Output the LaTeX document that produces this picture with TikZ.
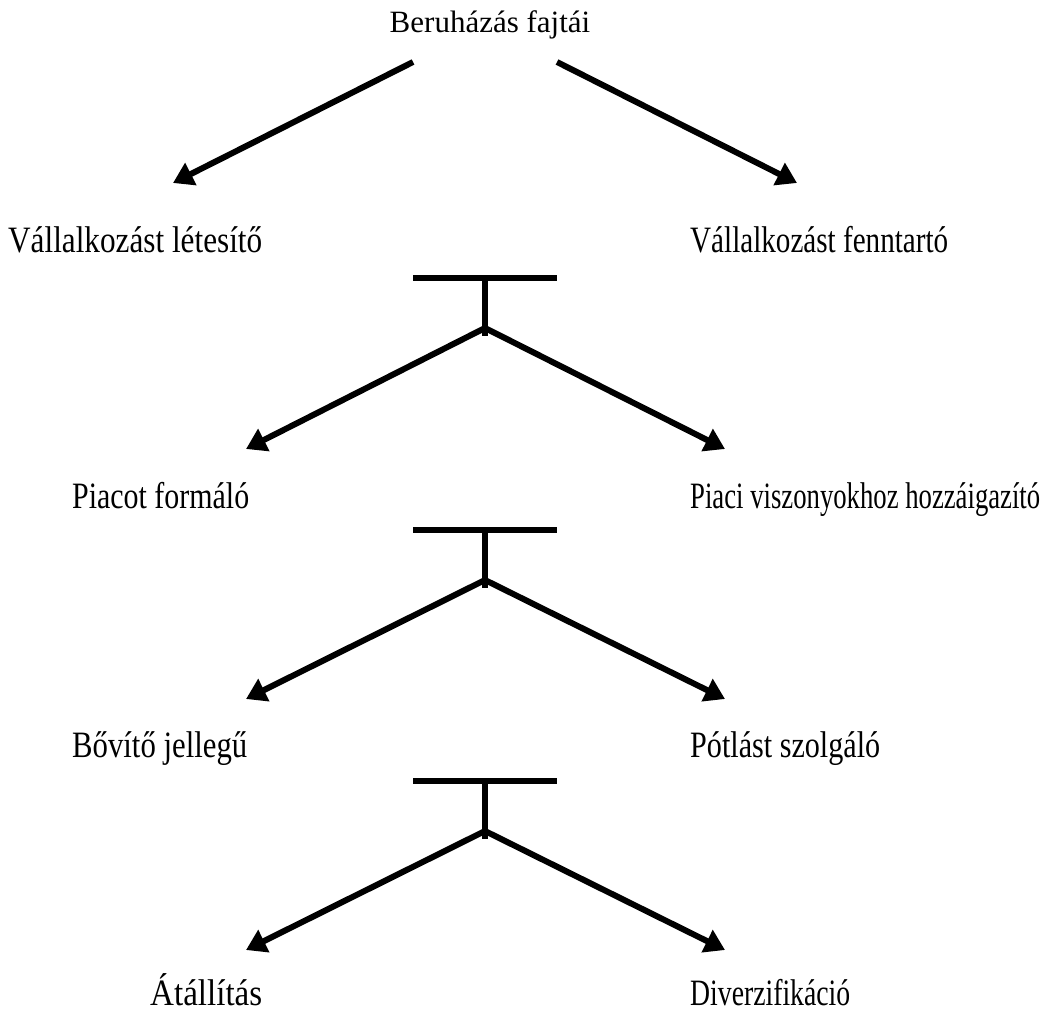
\documentclass[tikz,border=0pt]{standalone}
\usepackage{fontspec}
\usepackage{graphicx}
\setmainfont{Liberation Serif}
\usetikzlibrary{arrows.meta}
\newcommand{\lab}[2]{\resizebox{#1}{1.2\height}{#2}}
\begin{document}
\begin{tikzpicture}[x=1pt,y=-1pt,
  lbl/.style={inner sep=0pt,anchor=base west,font=\fontsize{31}{36}\selectfont},
  conn/.style={line width=6pt,-{Triangle[length=20pt,width=24pt]}},
  bar/.style={line width=6pt}]
\useasboundingbox (0,0) rectangle (1051,1011);
\node[inner sep=0pt,anchor=base,font=\fontsize{31}{36}\selectfont] (root) at (490,33) {Beruházás fajtái};
\coordinate (r1) at (413,62);
\coordinate (r2) at (557,62);
\node[lbl] (a1) at (8,252) {\lab{254pt}{Vállalkozást létesítő}};
\node[lbl] (a2) at (690,252) {\lab{258pt}{Vállalkozást fenntartó}};
\coordinate (ta1) at (173,183);
\coordinate (ta2) at (797,183);
\draw[conn] (r1) -- (ta1);
\draw[conn] (r2) -- (ta2);
% T1
\coordinate (b1l) at (413,278); \coordinate (b1r) at (557,278);
\coordinate (b1t) at (485,278); \coordinate (b1b) at (485,336); \coordinate (b1o) at (485,328);
\draw[bar] (b1l) -- (b1r); \draw[bar] (b1t) -- (b1b);
\node[lbl] (p1) at (72,508) {\lab{177pt}{Piacot formáló}};
\node[lbl] (p2) at (690,508) {\lab{350pt}{Piaci viszonyokhoz hozzáigazító}};
\coordinate (tp1) at (246,449); \coordinate (tp2) at (725,449);
\draw[conn] (b1o) -- (tp1); \draw[conn] (b1o) -- (tp2);
% T2
\coordinate (b2l) at (413,530); \coordinate (b2r) at (557,530);
\coordinate (b2t) at (485,530); \coordinate (b2b) at (485,588); \coordinate (b2o) at (485,580);
\draw[bar] (b2l) -- (b2r); \draw[bar] (b2t) -- (b2b);
\node[lbl] (c1) at (72,757) {\lab{175pt}{Bővítő jellegű}};
\node[lbl] (c2) at (690,757) {\lab{190pt}{Pótlást szolgáló}};
\coordinate (tc1) at (246,699); \coordinate (tc2) at (725,699);
\draw[conn] (b2o) -- (tc1); \draw[conn] (b2o) -- (tc2);
% T3
\coordinate (b3l) at (413,781); \coordinate (b3r) at (557,781);
\coordinate (b3t) at (485,781); \coordinate (b3b) at (485,839); \coordinate (b3o) at (485,831);
\draw[bar] (b3l) -- (b3r); \draw[bar] (b3t) -- (b3b);
\node[lbl] (d1) at (150,1005) {\lab{112pt}{Átállítás}};
\node[lbl] (d2) at (690,1005) {\lab{160pt}{Diverzifikáció}};
\coordinate (td1) at (246,950); \coordinate (td2) at (725,950);
\draw[conn] (b3o) -- (td1); \draw[conn] (b3o) -- (td2);
\end{tikzpicture}
\end{document}
